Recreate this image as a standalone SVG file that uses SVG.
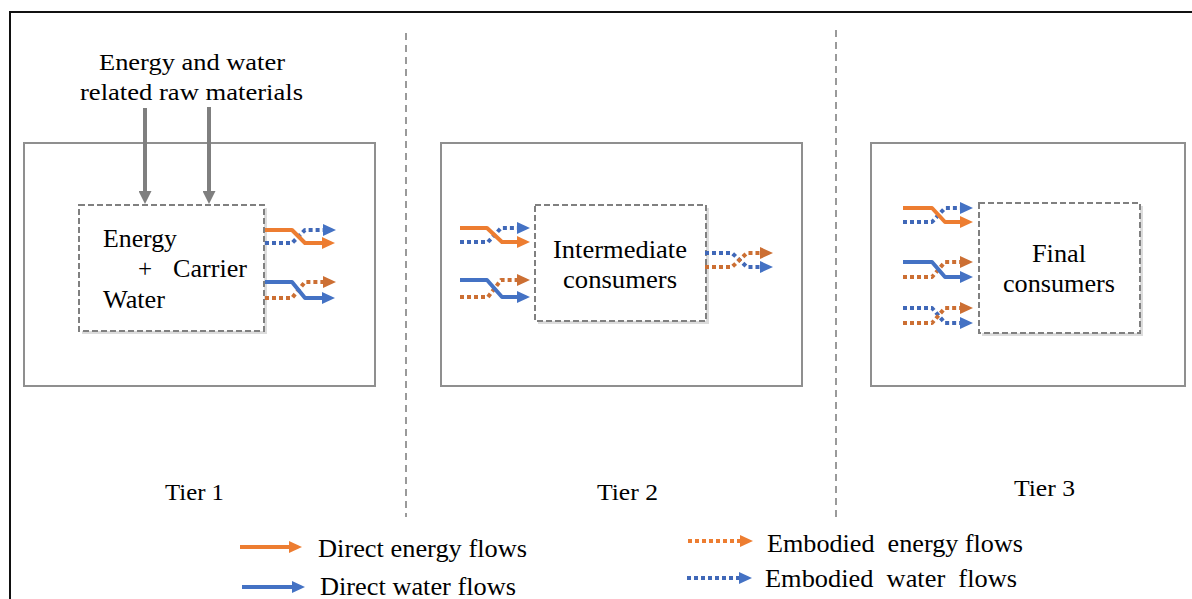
<svg xmlns="http://www.w3.org/2000/svg" width="1192" height="599" viewBox="0 0 1192 599">
<style>
.t{font-family:'Liberation Serif','Times New Roman',Times,serif;font-size:24px;fill:#000}
.b{font-size:25px}
.tier{fill:#fff;stroke:#8f8f8f;stroke-width:2}
.inner{fill:#fff;stroke:#808080;stroke-width:2;stroke-dasharray:6 3}
.shadow{fill:#dcdcdc}
.sep{stroke:#9a9a9a;stroke-width:2;stroke-dasharray:7 5;fill:none}
.f{fill:none;stroke-width:4;stroke-linejoin:round}
.de{stroke:#ED7D31;marker-end:url(#mO)}
.dw{stroke:#4472C4;marker-end:url(#mB)}
.ee{stroke:#CC6F33;stroke-dasharray:4 3;marker-end:url(#mR)}
.ew{stroke:#4068B8;stroke-dasharray:4 3;marker-end:url(#mB)}
.eeL{stroke:#ED7D31;stroke-dasharray:4 3;marker-end:url(#mO)}
.g{fill:none;stroke:#7f7f7f;stroke-width:4;marker-end:url(#mG)}
</style>
<defs>
<marker id="mO" markerUnits="userSpaceOnUse" markerWidth="13" markerHeight="12" viewBox="0 0 13 12" refX="7" refY="6" orient="auto"><path d="M0,0 L13,6 L0,12 z" fill="#ED7D31"/></marker>
<marker id="mB" markerUnits="userSpaceOnUse" markerWidth="13" markerHeight="12" viewBox="0 0 13 12" refX="7" refY="6" orient="auto"><path d="M0,0 L13,6 L0,12 z" fill="#4472C4"/></marker>
<marker id="mR" markerUnits="userSpaceOnUse" markerWidth="13" markerHeight="12" viewBox="0 0 13 12" refX="7" refY="6" orient="auto"><path d="M0,0 L13,6 L0,12 z" fill="#CC6F33"/></marker>
<marker id="mG" markerUnits="userSpaceOnUse" markerWidth="13" markerHeight="13" viewBox="0 0 13 13" refX="6" refY="6.5" orient="auto"><path d="M0,0 L13,6.5 L0,13 z" fill="#7f7f7f"/></marker>
</defs>
<rect x="0" y="0" width="1192" height="599" fill="#fff"/>
<rect x="10" y="12" width="1200" height="620" fill="none" stroke="#111" stroke-width="2"/>

<g id="separators">
<line class="sep" x1="406" y1="33" x2="406" y2="517"/>
<line class="sep" x1="836" y1="30" x2="836" y2="517"/>
</g>

<g id="tier1">
<rect class="tier" x="24" y="143" width="351" height="243"/>
<text class="t" x="165" y="500" textLength="59" lengthAdjust="spacingAndGlyphs">Tier 1</text>
</g>
<g id="tier2">
<rect class="tier" x="441" y="143" width="361" height="243"/>
<text class="t" x="597" y="500" textLength="61" lengthAdjust="spacingAndGlyphs">Tier 2</text>
</g>
<g id="tier3">
<rect class="tier" x="871" y="143" width="314" height="243"/>
<text class="t" x="1014" y="496" textLength="61" lengthAdjust="spacingAndGlyphs">Tier 3</text>
</g>

<g id="raw-materials">
<text class="t" x="99" y="70" textLength="186" lengthAdjust="spacingAndGlyphs">Energy and water</text>
<text class="t" x="80" y="100" textLength="223" lengthAdjust="spacingAndGlyphs">related raw materials</text>
</g>

<g id="carrier">
<rect class="shadow" x="82" y="208" width="185" height="126"/>
<rect class="inner" x="79" y="205" width="185" height="126"/>
<text class="t b" x="103" y="247" textLength="74" lengthAdjust="spacingAndGlyphs">Energy</text>
<text class="t b" x="138" y="277">+</text>
<text class="t b" x="173" y="277" textLength="74" lengthAdjust="spacingAndGlyphs">Carrier</text>
<text class="t b" x="103" y="308" textLength="62" lengthAdjust="spacingAndGlyphs">Water</text>
</g>

<g id="intermediate">
<rect class="shadow" x="538" y="208" width="171" height="116"/>
<rect class="inner" x="535" y="205" width="171" height="116"/>
<text class="t b" x="553" y="258" textLength="134" lengthAdjust="spacingAndGlyphs">Intermediate</text>
<text class="t b" x="563" y="288" textLength="114" lengthAdjust="spacingAndGlyphs">consumers</text>
</g>

<g id="final">
<rect class="shadow" x="982" y="206" width="161" height="130"/>
<rect class="inner" x="979" y="203" width="161" height="130"/>
<text class="t b" x="1032" y="262" textLength="54" lengthAdjust="spacingAndGlyphs">Final</text>
<text class="t b" x="1003" y="292" textLength="112" lengthAdjust="spacingAndGlyphs">consumers</text>
</g>

<g id="connectors">
<path class="g" d="M145,108 V197"/>
<path class="g" d="M209,107 V197"/>
<path class="f ew" d="M265,243 H292 L305,230 H330"/>
<path class="f de" d="M265,230 H292 L305,243 H329"/>
<path class="f ee" d="M265,298 H292 L305,282 H330"/>
<path class="f dw" d="M265,282 H292 L305,298 H329"/>
<path class="f ew" d="M460,242 H488 L501,228 H524"/>
<path class="f de" d="M460,228 H487 L502,242 H524"/>
<path class="f ee" d="M460,297 H488 L501,280 H524"/>
<path class="f dw" d="M460,280 H487 L502,297 H524"/>
<path class="f ew" d="M705,253 H732 L747,267 H767"/>
<path class="f ee" d="M705,267 H732 L747,253 H767"/>
<path class="f ew" d="M903,222 H932 L945,208 H967"/>
<path class="f de" d="M903,208 H932 L945,222 H967"/>
<path class="f ee" d="M903,277 H932 L945,262 H967"/>
<path class="f dw" d="M903,262 H932 L945,277 H967"/>
<path class="f ew" d="M903,308 H932 L945,323 H967"/>
<path class="f ee" d="M903,323 H932 L945,308 H967"/>
</g>

<g id="legend">
<path class="f de" d="M240,547 H296"/>
<text class="t b" x="318" y="557" textLength="209" lengthAdjust="spacingAndGlyphs">Direct energy flows</text>
<path class="f dw" d="M242,587 H299"/>
<text class="t b" x="320" y="595" textLength="196" lengthAdjust="spacingAndGlyphs">Direct water flows</text>
<path class="f eeL" d="M688,541 H747"/>
<text class="t b" x="767" y="552" textLength="256" lengthAdjust="spacingAndGlyphs" xml:space="preserve">Embodied  energy flows</text>
<path class="f ew" d="M687,578 H746"/>
<text class="t b" x="765" y="587" textLength="252" lengthAdjust="spacingAndGlyphs" xml:space="preserve">Embodied  water  flows</text>
</g>
</svg>
